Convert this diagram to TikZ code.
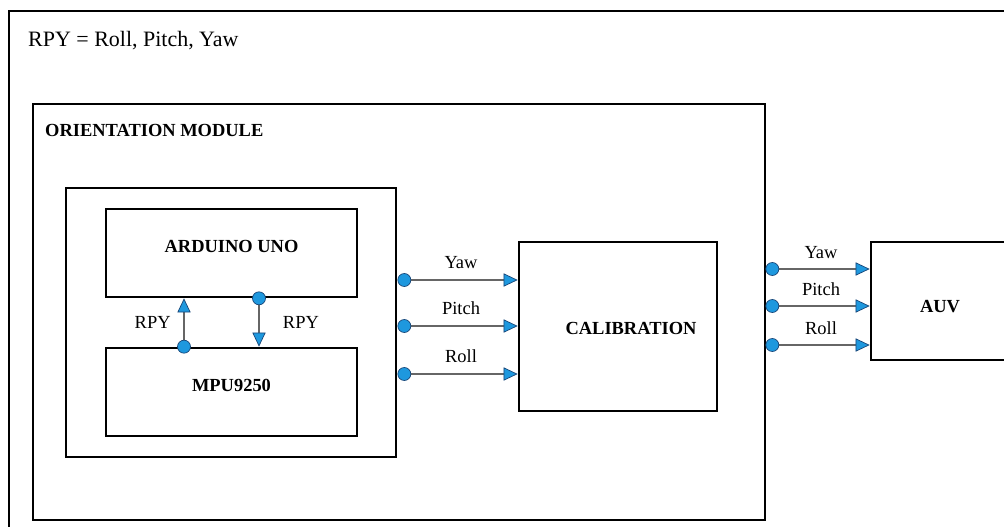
\documentclass[tikz,border=0pt]{standalone}
\usepackage{fontspec}
\setmainfont{Liberation Serif}
\usetikzlibrary{arrows.meta,fit,calc}

\definecolor{portblue}{RGB}{30,152,222}
\definecolor{portedge}{RGB}{25,70,120}

\tikzset{
  blk/.style={draw, line width=1.5pt, inner sep=0pt},
  ttl/.style={font=\fontsize{10.5}{12}\selectfont\bfseries},
  lbl/.style={font=\fontsize{10.5}{12}\selectfont},
  wire/.style={draw=gray!80!black, line width=0.6pt,
    -{Triangle[length=8pt,width=7.5pt,fill=portblue,color=portedge,line width=0.4pt]}},
  port/.style={fill=portblue, draw=portedge, line width=0.4pt},
}

\begin{document}
\begin{tikzpicture}[x=0.02cm,y=-0.02cm]
    \useasboundingbox (0,0) rectangle (1004,527);
    \clip (0,0) rectangle (1004,527);

    % outer frame and key
    \draw[line width=0.8pt] (9,11) rectangle (1040,560);
    \node[font=\fontsize{12.5}{14}\selectfont, anchor=west] (key) at (22,41) {RPY = Roll, Pitch, Yaw};

    % orientation module
    \node[blk, fit={(33,104) (765,520)}] (mod) {};
    \node[ttl, anchor=west] (modt) at (39,130) {ORIENTATION MODULE};
    \node[blk, fit={(66,188) (396,457)}] (grp) {};
    \node[blk, ttl, fit={(106,209) (357,297)}] (ard) {ARDUINO UNO};
    \node[blk, ttl, fit={(106,348) (357,436)}] (mpu) {MPU9250};
    \node[blk, fit={(519,242) (717,411)}] (cal) {};
    \node[ttl] (calt) at (631,328) {CALIBRATION};

    % vehicle
    \node[blk, fit={(871,242) (1040,360)}] (auv) {};
    \node[ttl] (auvt) at (940,307) {AUV};

    % sensor <-> board
    \coordinate (upx) at (184,0);
    \coordinate (dnx) at (259,0);
    \draw[wire] (mpu.north -| upx) -- (ard.south -| upx) node[midway, left=4pt, lbl] {RPY};
    \fill[port] (mpu.north -| upx) circle (3.7pt);
    \draw[wire] (ard.south -| dnx) -- (mpu.north -| dnx) node[midway, right=10pt, lbl] {RPY};
    \fill[port] (ard.south -| dnx) circle (3.7pt);

    % module -> calibration
    \foreach \sig/\yy in {Yaw/280, Pitch/326, Roll/374} {
        \coordinate (a) at (0,\yy);
        \coordinate (s) at ($(grp.east |- a)+(7,0)$);
        \draw[wire] (s) -- (cal.west |- a) node[midway, above=3pt, lbl] {\sig};
        \fill[port] (s) circle (3.7pt);
    }

    % module -> AUV
    \foreach \sig/\yy in {Yaw/269, Pitch/306, Roll/345} {
        \coordinate (a) at (0,\yy);
        \coordinate (s) at ($(mod.east |- a)+(6,0)$);
        \draw[wire] (s) -- (auv.west |- a) node[midway, above=2pt, lbl] {\sig};
        \fill[port] (s) circle (3.7pt);
    }
\end{tikzpicture}
\end{document}
